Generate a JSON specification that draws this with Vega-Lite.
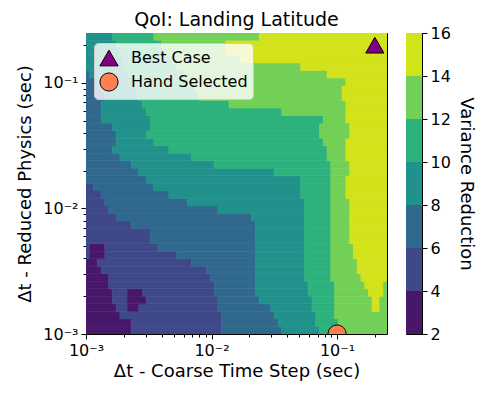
{
"$schema": "https://vega.github.io/schema/vega-lite/v6.json",
"padding": {"left": 16, "top": 10, "right": 5, "bottom": 5},
"config": {
  "font": "DejaVu Sans",
  "title": {"fontSize": 19, "fontWeight": "normal", "font": "DejaVu Sans", "color": "black"},
  "view": {"stroke": "black", "strokeWidth": 1},
  "axis": {"domain": false, "grid": false, "tickColor": "black", "tickWidth": 1, "labelColor": "black", "labelFont": "DejaVu Sans", "labelFontSize": 16, "titleFont": "DejaVu Sans", "titleFontSize": 18, "titleFontWeight": "normal", "titleColor": "black", "labelPadding": 3},
  "legend": {"fillColor": "rgba(255,255,255,0.8)", "strokeColor": "#cccccc", "cornerRadius": 4, "padding": 5, "labelFont": "DejaVu Sans", "labelFontSize": 16, "labelColor": "black", "symbolSize": 330, "symbolStrokeColor": "black", "symbolStrokeWidth": 1, "rowPadding": 2, "labelOffset": 12}
},
"datasets": {
"field": [
{"x":0.001,"x2":0.002291,"y":0.001,"y2":0.001148,"v":3},
{"x":0.002291,"x2":0.01202,"y":0.001,"y2":0.001148,"v":5},
{"x":0.01202,"x2":0.03631,"y":0.001,"y2":0.001148,"v":7},
{"x":0.03631,"x2":0.07244,"y":0.001,"y2":0.001148,"v":9},
{"x":0.07244,"x2":0.1023,"y":0.001,"y2":0.001148,"v":11},
{"x":0.1023,"x2":0.2512,"y":0.001,"y2":0.001148,"v":13},
{"x":0.001,"x2":0.002291,"y":0.001148,"y2":0.001318,"v":3},
{"x":0.002291,"x2":0.01202,"y":0.001148,"y2":0.001318,"v":5},
{"x":0.01202,"x2":0.03388,"y":0.001148,"y2":0.001318,"v":7},
{"x":0.03388,"x2":0.06761,"y":0.001148,"y2":0.001318,"v":9},
{"x":0.06761,"x2":0.1023,"y":0.001148,"y2":0.001318,"v":11},
{"x":0.1023,"x2":0.2512,"y":0.001148,"y2":0.001318,"v":13},
{"x":0.001,"x2":0.001862,"y":0.001318,"y2":0.001514,"v":3},
{"x":0.001862,"x2":0.01202,"y":0.001318,"y2":0.001514,"v":5},
{"x":0.01202,"x2":0.03162,"y":0.001318,"y2":0.001514,"v":7},
{"x":0.03162,"x2":0.06761,"y":0.001318,"y2":0.001514,"v":9},
{"x":0.06761,"x2":0.0955,"y":0.001318,"y2":0.001514,"v":11},
{"x":0.0955,"x2":0.2512,"y":0.001318,"y2":0.001514,"v":13},
{"x":0.001,"x2":0.001738,"y":0.001514,"y2":0.001738,"v":3},
{"x":0.001738,"x2":0.002138,"y":0.001514,"y2":0.001738,"v":5},
{"x":0.002138,"x2":0.00263,"y":0.001514,"y2":0.001738,"v":3},
{"x":0.00263,"x2":0.01122,"y":0.001514,"y2":0.001738,"v":5},
{"x":0.01122,"x2":0.02951,"y":0.001514,"y2":0.001738,"v":7},
{"x":0.02951,"x2":0.0631,"y":0.001514,"y2":0.001738,"v":9},
{"x":0.0631,"x2":0.0955,"y":0.001514,"y2":0.001738,"v":11},
{"x":0.0955,"x2":0.1905,"y":0.001514,"y2":0.001738,"v":13},
{"x":0.1905,"x2":0.2188,"y":0.001514,"y2":0.001738,"v":15},
{"x":0.2188,"x2":0.2512,"y":0.001514,"y2":0.001738,"v":13},
{"x":0.001,"x2":0.001622,"y":0.001738,"y2":0.001995,"v":3},
{"x":0.001622,"x2":0.002138,"y":0.001738,"y2":0.001995,"v":5},
{"x":0.002138,"x2":0.00302,"y":0.001738,"y2":0.001995,"v":3},
{"x":0.00302,"x2":0.01122,"y":0.001738,"y2":0.001995,"v":5},
{"x":0.01122,"x2":0.02399,"y":0.001738,"y2":0.001995,"v":7},
{"x":0.02399,"x2":0.0631,"y":0.001738,"y2":0.001995,"v":9},
{"x":0.0631,"x2":0.0955,"y":0.001738,"y2":0.001995,"v":11},
{"x":0.0955,"x2":0.1905,"y":0.001738,"y2":0.001995,"v":13},
{"x":0.1905,"x2":0.2188,"y":0.001738,"y2":0.001995,"v":15},
{"x":0.2188,"x2":0.2512,"y":0.001738,"y2":0.001995,"v":13},
{"x":0.001,"x2":0.001622,"y":0.001995,"y2":0.002291,"v":3},
{"x":0.001622,"x2":0.002138,"y":0.001995,"y2":0.002291,"v":5},
{"x":0.002138,"x2":0.002818,"y":0.001995,"y2":0.002291,"v":3},
{"x":0.002818,"x2":0.01047,"y":0.001995,"y2":0.002291,"v":5},
{"x":0.01047,"x2":0.02239,"y":0.001995,"y2":0.002291,"v":7},
{"x":0.02239,"x2":0.05888,"y":0.001995,"y2":0.002291,"v":9},
{"x":0.05888,"x2":0.0955,"y":0.001995,"y2":0.002291,"v":11},
{"x":0.0955,"x2":0.1778,"y":0.001995,"y2":0.002291,"v":13},
{"x":0.1778,"x2":0.2344,"y":0.001995,"y2":0.002291,"v":15},
{"x":0.2344,"x2":0.2512,"y":0.001995,"y2":0.002291,"v":13},
{"x":0.001,"x2":0.001514,"y":0.002291,"y2":0.00263,"v":3},
{"x":0.001514,"x2":0.01047,"y":0.002291,"y2":0.00263,"v":5},
{"x":0.01047,"x2":0.02239,"y":0.002291,"y2":0.00263,"v":7},
{"x":0.02239,"x2":0.05888,"y":0.002291,"y2":0.00263,"v":9},
{"x":0.05888,"x2":0.0955,"y":0.002291,"y2":0.00263,"v":11},
{"x":0.0955,"x2":0.166,"y":0.002291,"y2":0.00263,"v":13},
{"x":0.166,"x2":0.2344,"y":0.002291,"y2":0.00263,"v":15},
{"x":0.2344,"x2":0.2512,"y":0.002291,"y2":0.00263,"v":13},
{"x":0.001,"x2":0.001514,"y":0.00263,"y2":0.00302,"v":3},
{"x":0.001514,"x2":0.009772,"y":0.00263,"y2":0.00302,"v":5},
{"x":0.009772,"x2":0.02239,"y":0.00263,"y2":0.00302,"v":7},
{"x":0.02239,"x2":0.05495,"y":0.00263,"y2":0.00302,"v":9},
{"x":0.05495,"x2":0.08913,"y":0.00263,"y2":0.00302,"v":11},
{"x":0.08913,"x2":0.1549,"y":0.00263,"y2":0.00302,"v":13},
{"x":0.1549,"x2":0.2512,"y":0.00263,"y2":0.00302,"v":15},
{"x":0.001,"x2":0.001318,"y":0.00302,"y2":0.003467,"v":3},
{"x":0.001318,"x2":0.00912,"y":0.00302,"y2":0.003467,"v":5},
{"x":0.00912,"x2":0.02239,"y":0.00302,"y2":0.003467,"v":7},
{"x":0.02239,"x2":0.05495,"y":0.00302,"y2":0.003467,"v":9},
{"x":0.05495,"x2":0.08913,"y":0.00302,"y2":0.003467,"v":11},
{"x":0.08913,"x2":0.1445,"y":0.00302,"y2":0.003467,"v":13},
{"x":0.1445,"x2":0.2512,"y":0.00302,"y2":0.003467,"v":15},
{"x":0.001,"x2":0.00123,"y":0.003467,"y2":0.003981,"v":3},
{"x":0.00123,"x2":0.006918,"y":0.003467,"y2":0.003981,"v":5},
{"x":0.006918,"x2":0.02239,"y":0.003467,"y2":0.003981,"v":7},
{"x":0.02239,"x2":0.05495,"y":0.003467,"y2":0.003981,"v":9},
{"x":0.05495,"x2":0.08913,"y":0.003467,"y2":0.003981,"v":11},
{"x":0.08913,"x2":0.1445,"y":0.003467,"y2":0.003981,"v":13},
{"x":0.1445,"x2":0.2512,"y":0.003467,"y2":0.003981,"v":15},
{"x":0.001,"x2":0.001072,"y":0.003981,"y2":0.004571,"v":5},
{"x":0.001072,"x2":0.001413,"y":0.003981,"y2":0.004571,"v":3},
{"x":0.001413,"x2":0.005248,"y":0.003981,"y2":0.004571,"v":5},
{"x":0.005248,"x2":0.02239,"y":0.003981,"y2":0.004571,"v":7},
{"x":0.02239,"x2":0.05495,"y":0.003981,"y2":0.004571,"v":9},
{"x":0.05495,"x2":0.08913,"y":0.003981,"y2":0.004571,"v":11},
{"x":0.08913,"x2":0.1349,"y":0.003981,"y2":0.004571,"v":13},
{"x":0.1349,"x2":0.2512,"y":0.003981,"y2":0.004571,"v":15},
{"x":0.001,"x2":0.001072,"y":0.004571,"y2":0.005248,"v":5},
{"x":0.001072,"x2":0.001413,"y":0.004571,"y2":0.005248,"v":3},
{"x":0.001413,"x2":0.003715,"y":0.004571,"y2":0.005248,"v":5},
{"x":0.003715,"x2":0.02239,"y":0.004571,"y2":0.005248,"v":7},
{"x":0.02239,"x2":0.05495,"y":0.004571,"y2":0.005248,"v":9},
{"x":0.05495,"x2":0.08913,"y":0.004571,"y2":0.005248,"v":11},
{"x":0.08913,"x2":0.1349,"y":0.004571,"y2":0.005248,"v":13},
{"x":0.1349,"x2":0.2512,"y":0.004571,"y2":0.005248,"v":15},
{"x":0.001,"x2":0.003236,"y":0.005248,"y2":0.006026,"v":5},
{"x":0.003236,"x2":0.02239,"y":0.005248,"y2":0.006026,"v":7},
{"x":0.02239,"x2":0.05495,"y":0.005248,"y2":0.006026,"v":9},
{"x":0.05495,"x2":0.08913,"y":0.005248,"y2":0.006026,"v":11},
{"x":0.08913,"x2":0.1259,"y":0.005248,"y2":0.006026,"v":13},
{"x":0.1259,"x2":0.2512,"y":0.005248,"y2":0.006026,"v":15},
{"x":0.001,"x2":0.003236,"y":0.006026,"y2":0.006918,"v":5},
{"x":0.003236,"x2":0.02239,"y":0.006026,"y2":0.006918,"v":7},
{"x":0.02239,"x2":0.05495,"y":0.006026,"y2":0.006918,"v":9},
{"x":0.05495,"x2":0.08913,"y":0.006026,"y2":0.006918,"v":11},
{"x":0.08913,"x2":0.1259,"y":0.006026,"y2":0.006918,"v":13},
{"x":0.1259,"x2":0.2512,"y":0.006026,"y2":0.006918,"v":15},
{"x":0.001,"x2":0.002291,"y":0.006918,"y2":0.007943,"v":5},
{"x":0.002291,"x2":0.02239,"y":0.006918,"y2":0.007943,"v":7},
{"x":0.02239,"x2":0.05495,"y":0.006918,"y2":0.007943,"v":9},
{"x":0.05495,"x2":0.08913,"y":0.006918,"y2":0.007943,"v":11},
{"x":0.08913,"x2":0.1259,"y":0.006918,"y2":0.007943,"v":13},
{"x":0.1259,"x2":0.2512,"y":0.006918,"y2":0.007943,"v":15},
{"x":0.001,"x2":0.001738,"y":0.007943,"y2":0.00912,"v":5},
{"x":0.001738,"x2":0.02089,"y":0.007943,"y2":0.00912,"v":7},
{"x":0.02089,"x2":0.05495,"y":0.007943,"y2":0.00912,"v":9},
{"x":0.05495,"x2":0.08913,"y":0.007943,"y2":0.00912,"v":11},
{"x":0.08913,"x2":0.1259,"y":0.007943,"y2":0.00912,"v":13},
{"x":0.1259,"x2":0.2512,"y":0.007943,"y2":0.00912,"v":15},
{"x":0.001,"x2":0.001514,"y":0.00912,"y2":0.01047,"v":5},
{"x":0.001514,"x2":0.01122,"y":0.00912,"y2":0.01047,"v":7},
{"x":0.01122,"x2":0.05495,"y":0.00912,"y2":0.01047,"v":9},
{"x":0.05495,"x2":0.08913,"y":0.00912,"y2":0.01047,"v":11},
{"x":0.08913,"x2":0.1259,"y":0.00912,"y2":0.01047,"v":13},
{"x":0.1259,"x2":0.2512,"y":0.00912,"y2":0.01047,"v":15},
{"x":0.001,"x2":0.001413,"y":0.01047,"y2":0.01202,"v":5},
{"x":0.001413,"x2":0.006457,"y":0.01047,"y2":0.01202,"v":7},
{"x":0.006457,"x2":0.05495,"y":0.01047,"y2":0.01202,"v":9},
{"x":0.05495,"x2":0.08913,"y":0.01047,"y2":0.01202,"v":11},
{"x":0.08913,"x2":0.1259,"y":0.01047,"y2":0.01202,"v":13},
{"x":0.1259,"x2":0.2512,"y":0.01047,"y2":0.01202,"v":15},
{"x":0.001,"x2":0.001318,"y":0.01202,"y2":0.0138,"v":5},
{"x":0.001318,"x2":0.004571,"y":0.01202,"y2":0.0138,"v":7},
{"x":0.004571,"x2":0.05129,"y":0.01202,"y2":0.0138,"v":9},
{"x":0.05129,"x2":0.08913,"y":0.01202,"y2":0.0138,"v":11},
{"x":0.08913,"x2":0.1175,"y":0.01202,"y2":0.0138,"v":13},
{"x":0.1175,"x2":0.2512,"y":0.01202,"y2":0.0138,"v":15},
{"x":0.001,"x2":0.001148,"y":0.0138,"y2":0.01585,"v":5},
{"x":0.001148,"x2":0.003467,"y":0.0138,"y2":0.01585,"v":7},
{"x":0.003467,"x2":0.05129,"y":0.0138,"y2":0.01585,"v":9},
{"x":0.05129,"x2":0.08913,"y":0.0138,"y2":0.01585,"v":11},
{"x":0.08913,"x2":0.1175,"y":0.0138,"y2":0.01585,"v":13},
{"x":0.1175,"x2":0.2512,"y":0.0138,"y2":0.01585,"v":15},
{"x":0.001,"x2":0.00302,"y":0.01585,"y2":0.0182,"v":7},
{"x":0.00302,"x2":0.05129,"y":0.01585,"y2":0.0182,"v":9},
{"x":0.05129,"x2":0.08913,"y":0.01585,"y2":0.0182,"v":11},
{"x":0.08913,"x2":0.1175,"y":0.01585,"y2":0.0182,"v":13},
{"x":0.1175,"x2":0.2512,"y":0.01585,"y2":0.0182,"v":15},
{"x":0.001,"x2":0.00263,"y":0.0182,"y2":0.02089,"v":7},
{"x":0.00263,"x2":0.03162,"y":0.0182,"y2":0.02089,"v":9},
{"x":0.03162,"x2":0.08913,"y":0.0182,"y2":0.02089,"v":11},
{"x":0.08913,"x2":0.1259,"y":0.0182,"y2":0.02089,"v":13},
{"x":0.1259,"x2":0.2512,"y":0.0182,"y2":0.02089,"v":15},
{"x":0.001,"x2":0.002291,"y":0.02089,"y2":0.02399,"v":7},
{"x":0.002291,"x2":0.01047,"y":0.02089,"y2":0.02399,"v":9},
{"x":0.01047,"x2":0.08913,"y":0.02089,"y2":0.02399,"v":11},
{"x":0.08913,"x2":0.1259,"y":0.02089,"y2":0.02399,"v":13},
{"x":0.1259,"x2":0.2512,"y":0.02089,"y2":0.02399,"v":15},
{"x":0.001,"x2":0.001862,"y":0.02399,"y2":0.02754,"v":7},
{"x":0.001862,"x2":0.006918,"y":0.02399,"y2":0.02754,"v":9},
{"x":0.006918,"x2":0.08318,"y":0.02399,"y2":0.02754,"v":11},
{"x":0.08318,"x2":0.1175,"y":0.02399,"y2":0.02754,"v":13},
{"x":0.1175,"x2":0.2512,"y":0.02399,"y2":0.02754,"v":15},
{"x":0.001,"x2":0.001622,"y":0.02754,"y2":0.03162,"v":7},
{"x":0.001622,"x2":0.004571,"y":0.02754,"y2":0.03162,"v":9},
{"x":0.004571,"x2":0.08318,"y":0.02754,"y2":0.03162,"v":11},
{"x":0.08318,"x2":0.1175,"y":0.02754,"y2":0.03162,"v":13},
{"x":0.1175,"x2":0.2512,"y":0.02754,"y2":0.03162,"v":15},
{"x":0.001,"x2":0.001738,"y":0.03162,"y2":0.03631,"v":7},
{"x":0.001738,"x2":0.003467,"y":0.03162,"y2":0.03631,"v":9},
{"x":0.003467,"x2":0.07762,"y":0.03162,"y2":0.03631,"v":11},
{"x":0.07762,"x2":0.1175,"y":0.03162,"y2":0.03631,"v":13},
{"x":0.1175,"x2":0.2512,"y":0.03162,"y2":0.03631,"v":15},
{"x":0.001,"x2":0.001738,"y":0.03631,"y2":0.04169,"v":7},
{"x":0.001738,"x2":0.00302,"y":0.03631,"y2":0.04169,"v":9},
{"x":0.00302,"x2":0.07244,"y":0.03631,"y2":0.04169,"v":11},
{"x":0.07244,"x2":0.1259,"y":0.03631,"y2":0.04169,"v":13},
{"x":0.1259,"x2":0.2512,"y":0.03631,"y2":0.04169,"v":15},
{"x":0.001,"x2":0.001622,"y":0.04169,"y2":0.04786,"v":7},
{"x":0.001622,"x2":0.003236,"y":0.04169,"y2":0.04786,"v":9},
{"x":0.003236,"x2":0.07244,"y":0.04169,"y2":0.04786,"v":11},
{"x":0.07244,"x2":0.1259,"y":0.04169,"y2":0.04786,"v":13},
{"x":0.1259,"x2":0.2512,"y":0.04169,"y2":0.04786,"v":15},
{"x":0.001,"x2":0.001318,"y":0.04786,"y2":0.05495,"v":7},
{"x":0.001318,"x2":0.003236,"y":0.04786,"y2":0.05495,"v":9},
{"x":0.003236,"x2":0.07762,"y":0.04786,"y2":0.05495,"v":11},
{"x":0.07762,"x2":0.1175,"y":0.04786,"y2":0.05495,"v":13},
{"x":0.1175,"x2":0.2512,"y":0.04786,"y2":0.05495,"v":15},
{"x":0.001,"x2":0.001318,"y":0.05495,"y2":0.0631,"v":7},
{"x":0.001318,"x2":0.00302,"y":0.05495,"y2":0.0631,"v":9},
{"x":0.00302,"x2":0.03631,"y":0.05495,"y2":0.0631,"v":11},
{"x":0.03631,"x2":0.1175,"y":0.05495,"y2":0.0631,"v":13},
{"x":0.1175,"x2":0.2512,"y":0.05495,"y2":0.0631,"v":15},
{"x":0.001,"x2":0.001318,"y":0.0631,"y2":0.07244,"v":7},
{"x":0.001318,"x2":0.002818,"y":0.0631,"y2":0.07244,"v":9},
{"x":0.002818,"x2":0.0138,"y":0.0631,"y2":0.07244,"v":11},
{"x":0.0138,"x2":0.1175,"y":0.0631,"y2":0.07244,"v":13},
{"x":0.1175,"x2":0.2512,"y":0.0631,"y2":0.07244,"v":15},
{"x":0.001,"x2":0.001413,"y":0.07244,"y2":0.08318,"v":7},
{"x":0.001413,"x2":0.00263,"y":0.07244,"y2":0.08318,"v":9},
{"x":0.00263,"x2":0.007943,"y":0.07244,"y2":0.08318,"v":11},
{"x":0.007943,"x2":0.1096,"y":0.07244,"y2":0.08318,"v":13},
{"x":0.1096,"x2":0.2512,"y":0.07244,"y2":0.08318,"v":15},
{"x":0.001,"x2":0.001318,"y":0.08318,"y2":0.0955,"v":7},
{"x":0.001318,"x2":0.002455,"y":0.08318,"y2":0.0955,"v":9},
{"x":0.002455,"x2":0.007413,"y":0.08318,"y2":0.0955,"v":11},
{"x":0.007413,"x2":0.1096,"y":0.08318,"y2":0.0955,"v":13},
{"x":0.1096,"x2":0.2512,"y":0.08318,"y2":0.0955,"v":15},
{"x":0.001,"x2":0.00123,"y":0.0955,"y2":0.1096,"v":7},
{"x":0.00123,"x2":0.002291,"y":0.0955,"y2":0.1096,"v":9},
{"x":0.002291,"x2":0.006457,"y":0.0955,"y2":0.1096,"v":11},
{"x":0.006457,"x2":0.1175,"y":0.0955,"y2":0.1096,"v":13},
{"x":0.1175,"x2":0.2512,"y":0.0955,"y2":0.1096,"v":15},
{"x":0.001,"x2":0.001072,"y":0.1096,"y2":0.1259,"v":7},
{"x":0.001072,"x2":0.002138,"y":0.1096,"y2":0.1259,"v":9},
{"x":0.002138,"x2":0.006026,"y":0.1096,"y2":0.1259,"v":11},
{"x":0.006026,"x2":0.08318,"y":0.1096,"y2":0.1259,"v":13},
{"x":0.08318,"x2":0.2512,"y":0.1096,"y2":0.1259,"v":15},
{"x":0.001,"x2":0.001995,"y":0.1259,"y2":0.1445,"v":9},
{"x":0.001995,"x2":0.005248,"y":0.1259,"y2":0.1445,"v":11},
{"x":0.005248,"x2":0.05129,"y":0.1259,"y2":0.1445,"v":13},
{"x":0.05129,"x2":0.2512,"y":0.1259,"y2":0.1445,"v":15},
{"x":0.001,"x2":0.001995,"y":0.1445,"y2":0.166,"v":9},
{"x":0.001995,"x2":0.004898,"y":0.1445,"y2":0.166,"v":11},
{"x":0.004898,"x2":0.01698,"y":0.1445,"y2":0.166,"v":13},
{"x":0.01698,"x2":0.2512,"y":0.1445,"y2":0.166,"v":15},
{"x":0.001,"x2":0.001862,"y":0.166,"y2":0.1905,"v":9},
{"x":0.001862,"x2":0.004266,"y":0.166,"y2":0.1905,"v":11},
{"x":0.004266,"x2":0.01288,"y":0.166,"y2":0.1905,"v":13},
{"x":0.01288,"x2":0.2512,"y":0.166,"y2":0.1905,"v":15},
{"x":0.001,"x2":0.001738,"y":0.1905,"y2":0.2188,"v":9},
{"x":0.001738,"x2":0.003981,"y":0.1905,"y2":0.2188,"v":11},
{"x":0.003981,"x2":0.01288,"y":0.1905,"y2":0.2188,"v":13},
{"x":0.01288,"x2":0.2512,"y":0.1905,"y2":0.2188,"v":15},
{"x":0.001,"x2":0.001622,"y":0.2188,"y2":0.2512,"v":9},
{"x":0.001622,"x2":0.003467,"y":0.2188,"y2":0.2512,"v":11},
{"x":0.003467,"x2":0.02399,"y":0.2188,"y2":0.2512,"v":13},
{"x":0.02399,"x2":0.2512,"y":0.2188,"y2":0.2512,"v":15}
],
"markers": [
{"x":0.2,"y":0.2,"label":"Best Case"},
{"x":0.1,"y":0.001,"label":"Hand Selected"}
],
"bar": [
{"lo":2,"hi":4,"v":3},{"lo":4,"hi":6,"v":5},{"lo":6,"hi":8,"v":7},{"lo":8,"hi":10,"v":9},{"lo":10,"hi":12,"v":11},{"lo":12,"hi":14,"v":13},{"lo":14,"hi":16,"v":15}
]
},
"spacing": 19,
"bounds": "flush",
"hconcat": [
{
"width": 301, "height": 301,
"title": {"text": "QoI: Landing Latitude", "fontSize": 19, "fontWeight": "normal", "font": "DejaVu Sans", "color": "black", "anchor": "middle", "offset": 3},
"layer": [
{
"data": {"name": "field"},
"mark": {"type": "rect", "clip": true, "strokeWidth": 0.6},
"encoding": {
"x": {"field": "x", "type": "quantitative", "scale": {"type": "log", "domain": [0.001, 0.25], "nice": false},
  "axis": {"title": "Δt - Coarse Time Step (sec)", "values": [0.001,0.002,0.003,0.004,0.005,0.006,0.007,0.008,0.009,0.01,0.02,0.03,0.04,0.05,0.06,0.07,0.08,0.09,0.1,0.2],
  "labelExpr": "datum.value == 0.001 ? '10⁻³' : datum.value == 0.01 ? '10⁻²' : datum.value == 0.1 ? '10⁻¹' : ''",
  "tickSize": {"condition": {"test": "datum.value == 0.001 || datum.value == 0.01 || datum.value == 0.1", "value": 5}, "value": 3},
  "labelFlush": false, "labelOverlap": false, "titlePadding": 4}},
"x2": {"field": "x2"},
"y": {"field": "y", "type": "quantitative", "scale": {"type": "log", "domain": [0.001, 0.25], "nice": false},
  "axis": {"title": "Δt - Reduced Physics (sec)", "values": [0.001,0.002,0.003,0.004,0.005,0.006,0.007,0.008,0.009,0.01,0.02,0.03,0.04,0.05,0.06,0.07,0.08,0.09,0.1,0.2],
  "labelExpr": "datum.value == 0.001 ? '10⁻³' : datum.value == 0.01 ? '10⁻²' : datum.value == 0.1 ? '10⁻¹' : ''",
  "tickSize": {"condition": {"test": "datum.value == 0.001 || datum.value == 0.01 || datum.value == 0.1", "value": 5}, "value": 3},
  "labelFlush": false, "labelOverlap": false, "titlePadding": 8}},
"y2": {"field": "y2"},
"fill": {"field": "v", "type": "quantitative", "scale": {"type": "threshold", "domain": [4,6,8,10,12,14], "range": ["#481769","#3f4889","#31688e","#21918c","#2db27d","#73d056","#d2e21b"]}, "legend": null},
"stroke": {"field": "v", "type": "quantitative", "scale": {"type": "threshold", "domain": [4,6,8,10,12,14], "range": ["#481769","#3f4889","#31688e","#21918c","#2db27d","#73d056","#d2e21b"]}, "legend": null}
}
},
{
"data": {"name": "markers"},
"mark": {"type": "point", "filled": true, "size": 330, "stroke": "black", "strokeWidth": 1, "opacity": 1, "clip": true},
"encoding": {
"x": {"field": "x", "type": "quantitative"},
"y": {"field": "y", "type": "quantitative"},
"shape": {"field": "label", "type": "nominal", "scale": {"domain": ["Best Case", "Hand Selected"], "range": ["triangle-up", "circle"]}, "legend": {"title": null, "orient": "none", "legendX": 8, "legendY": 10}},
"color": {"field": "label", "type": "nominal", "scale": {"domain": ["Best Case", "Hand Selected"], "range": ["#800080", "#ff7f50"]}, "legend": {"title": null, "orient": "none", "legendX": 8, "legendY": 10}}
}
}
]
},
{
"width": 16, "height": 301,
"data": {"name": "bar"},
"mark": {"type": "rect"},
"encoding": {
"y": {"field": "lo", "type": "quantitative", "scale": {"domain": [2, 16], "nice": false, "zero": false},
  "axis": {"orient": "right", "values": [2,4,6,8,10,12,14,16], "tickSize": 5, "title": "Variance Reduction", "labelFlush": false, "labelOverlap": false, "titlePadding": 6}},
"y2": {"field": "hi"},
"fill": {"field": "v", "type": "quantitative", "scale": {"type": "threshold", "domain": [4,6,8,10,12,14], "range": ["#481769","#3f4889","#31688e","#21918c","#2db27d","#73d056","#d2e21b"]}, "legend": null}
}
}
]
}
